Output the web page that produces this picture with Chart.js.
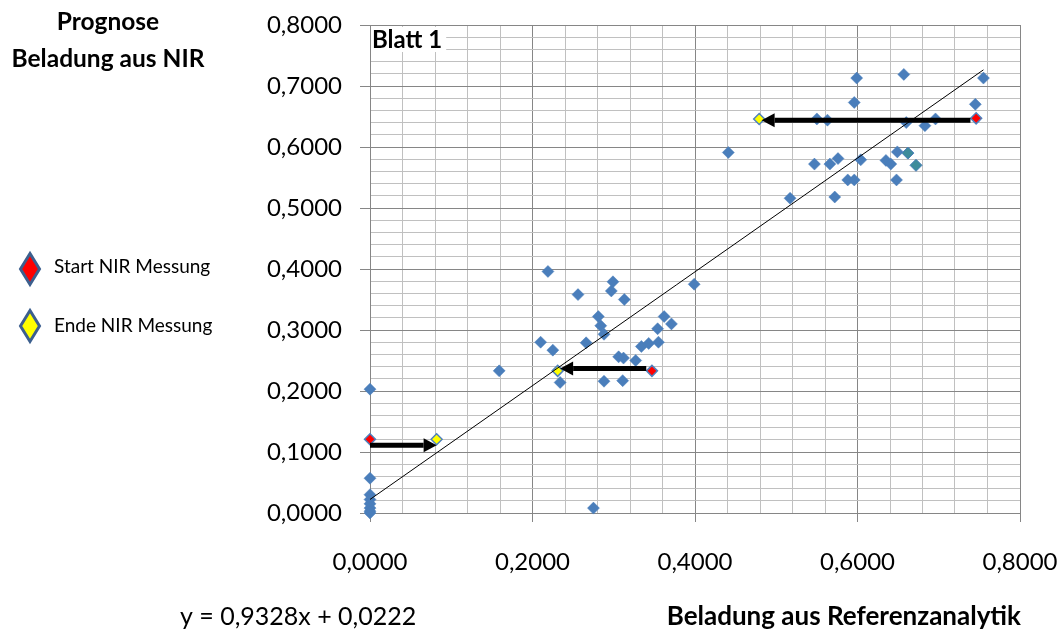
<!DOCTYPE html>
<html><head><meta charset="utf-8">
<script src="https://cdn.jsdelivr.net/npm/chart.js@4/dist/chart.umd.min.js"></script>
<style>html,body{margin:0;padding:0;background:#fff}#wrap{width:1064px;height:635px;position:relative}</style>
</head><body><div id="wrap"><canvas id="c" width="1064" height="635"></canvas></div>
<script>
// ---- data ----
const blueX = [0.441,0.599,0.657,0.755,0.596,0.745,0.550,0.563,0.660,0.683,0.696,0.547,0.566,0.576,0.604,0.635,0.641,0.649,0.588,0.596,0.648,0.517,0.572,
  0.159,0.219,0.210,0.225,0.234,0.256,0.266,0.281,0.284,0.288,0.288,0.299,0.297,0.313,0.306,0.312,0.311,0.327,0.334,0.343,0.354,0.355,0.362,0.371,0.399,0.275,
  0,0,0,0,0,0,0,0];
const blueY = [0.591,0.713,0.719,0.713,0.673,0.670,0.646,0.644,0.640,0.635,0.646,0.572,0.572,0.581,0.579,0.578,0.572,0.592,0.546,0.546,0.546,0.516,0.518,
  0.233,0.396,0.280,0.267,0.214,0.358,0.279,0.322,0.307,0.293,0.216,0.379,0.364,0.350,0.256,0.254,0.217,0.250,0.273,0.278,0.302,0.280,0.322,0.310,0.375,0.008,
  0.203,0.057,0.030,0.022,0.015,0.008,0.003,0.000];
const tealX = [0.662, 0.672];
const tealY = [0.590, 0.570];
const startX = [0.000, 0.347, 0.746];
const startY = [0.121, 0.233, 0.647];
const endX = [0.082, 0.231, 0.479];
const endY = [0.121, 0.233, 0.646];
const trendX = [0.000, 0.755];
const trendY = [0.0222, 0.7265];
const arrowFromX = [0.000, 0.340, 0.739];
const arrowToX = [0.082, 0.234, 0.482];
const arrowY = [0.111, 0.237, 0.644];
const xTickLabels = [0, 0.2, 0.4, 0.6, 0.8];
const yTickLabels = [0, 0.1, 0.2, 0.3, 0.4, 0.5, 0.6, 0.7, 0.8];
const legendLabels = ['Start NIR Messung', 'Ende NIR Messung'];
const xTitle = 'Beladung aus Referenzanalytik';
const yTitle = ['Prognose', 'Beladung aus NIR'];
const equationText = 'y = 0,9328x + 0,0222';
const sheetLabel = 'Blatt 1';

const pts = (xs, ys) => xs.map((x, i) => ({x, y: ys[i]}));
const isLabelled = (v, list) => list.some(t => Math.abs(t - v) < 1e-6);
const fmt = v => v.toFixed(4).replace('.', ',');
const MAJOR = '#868686', MINOR = '#c0c0c0';
const FONT = 'Lato, "Open Sans", sans-serif';
const zeroPad = s => { s.paddingTop = 0; s.paddingBottom = 0; s.paddingLeft = 0; s.paddingRight = 0; };

const extras = {
  id: 'extras',
  afterDatasetsDraw(chart) {
    const {ctx, chartArea, scales: {x, y}} = chart;
    ctx.save();
    // text box of the sheet label (white fill over the grid)
    ctx.font = 'bold 24px ' + FONT;
    const w = ctx.measureText(sheetLabel).width;
    ctx.fillStyle = '#fff';
    ctx.fillRect(chartArea.left + 1, chartArea.top + 2, w + 5, 25);
    ctx.fillStyle = '#000'; ctx.textAlign = 'left'; ctx.textBaseline = 'alphabetic';
    ctx.fillText(sheetLabel, chartArea.left + 2, 48);
    // arrows
    ctx.fillStyle = '#000'; ctx.strokeStyle = '#000'; ctx.lineWidth = 5;
    for (let i = 0; i < arrowY.length; i++) {
      const x0 = x.getPixelForValue(arrowFromX[i]);
      const x1 = x.getPixelForValue(arrowToX[i]);
      const py = y.getPixelForValue(arrowY[i]);
      const dir = Math.sign(x1 - x0);
      const head = 13;
      ctx.beginPath(); ctx.moveTo(x0, py); ctx.lineTo(x1 - dir * head, py); ctx.stroke();
      ctx.beginPath();
      ctx.moveTo(x1, py);
      ctx.lineTo(x1 - dir * head, py - 7);
      ctx.lineTo(x1 - dir * head, py + 7);
      ctx.closePath(); ctx.fill();
    }
    ctx.restore();
  },
  afterDraw(chart) {
    const {ctx} = chart;
    ctx.save();
    ctx.fillStyle = '#000';
    ctx.textBaseline = 'alphabetic';
    ctx.font = 'bold 24.5px ' + FONT; ctx.textAlign = 'center';
    ctx.fillText(yTitle[0], 108, 30);
    ctx.fillText(yTitle[1], 108, 67);
    ctx.font = 'bold 26px ' + FONT; ctx.textAlign = 'right';
    ctx.fillText(xTitle, 1021, 625);
    ctx.font = '25px ' + FONT; ctx.textAlign = 'left';
    ctx.fillText(equationText, 180, 625);
    const fills = ['#ff0000', '#ffff00'];
    const cys = [269, 326];
    for (let i = 0; i < 2; i++) {
      const cx = 30, cy = cys[i];
      ctx.beginPath();
      ctx.moveTo(cx, cy - 15.5); ctx.lineTo(cx + 9.5, cy); ctx.lineTo(cx, cy + 15.5); ctx.lineTo(cx - 9.5, cy); ctx.closePath();
      ctx.fillStyle = fills[i]; ctx.fill();
      ctx.lineWidth = 3; ctx.strokeStyle = '#3C5F8E'; ctx.stroke();
      ctx.fillStyle = '#000'; ctx.font = '19px ' + FONT; ctx.textAlign = 'left';
      ctx.fillText(legendLabels[i], 54, cy + 4 + (i ? 2 : 0));
    }
    ctx.restore();
  }
};

new Chart(document.getElementById('c'), {
  type: 'scatter',
  data: {
    datasets: [
      {label: 'Trend', type: 'line', data: pts(trendX, trendY), borderColor: '#000', borderWidth: 1, pointRadius: 0, fill: false, order: 0, clip: false},
      {label: legendLabels[0], data: pts(startX, startY), pointStyle: 'rectRot', pointRadius: 5.5, backgroundColor: '#ff0000', borderColor: '#4F81BD', borderWidth: 1.5, order: 1, clip: false},
      {label: legendLabels[1], data: pts(endX, endY), pointStyle: 'rectRot', pointRadius: 5.5, backgroundColor: '#ffff00', borderColor: '#4F81BD', borderWidth: 1.5, order: 1, clip: false},
      {label: 'teal', data: pts(tealX, tealY), pointStyle: 'rectRot', pointRadius: 6, backgroundColor: '#3E8B9B', borderColor: '#4A7EBB', borderWidth: 1, order: 2, clip: false},
      {label: 'Daten', data: pts(blueX, blueY), pointStyle: 'rectRot', pointRadius: 6, backgroundColor: '#4A7EBB', borderColor: '#4A7EBB', borderWidth: 0.5, order: 3, clip: false}
    ]
  },
  options: {
    responsive: false, animation: false, devicePixelRatio: 1,
    layout: {padding: {top: 25, right: 44, left: 0, bottom: 0}},
    plugins: {legend: {display: false}, tooltip: {enabled: false}},
    scales: {
      x: {
        type: 'linear', min: 0, max: 0.8,
        afterFit: s => { s.height = 122; zeroPad(s); },
        ticks: {stepSize: 0.04, autoSkip: false, maxRotation: 0, minRotation: 0, padding: 26,
          color: '#000', font: {family: FONT, size: 24},
          callback: v => isLabelled(v, xTickLabels) ? fmt(v) : ''},
        grid: {lineWidth: 1, tickLength: 9,
          color: c => isLabelled(c.tick.value, xTickLabels) ? MAJOR : MINOR,
          tickColor: c => isLabelled(c.tick.value, xTickLabels) ? MAJOR : 'rgba(0,0,0,0)'},
        border: {display: true, color: MAJOR, width: 1}
      },
      y: {
        type: 'linear', min: 0, max: 0.8,
        afterFit: s => { s.width = 370; zeroPad(s); },
        ticks: {stepSize: 0.02, autoSkip: false, padding: 18,
          color: '#000', font: {family: FONT, size: 24},
          callback: v => isLabelled(v, yTickLabels) ? fmt(v) : ''},
        grid: {lineWidth: 1, tickLength: 10,
          color: c => isLabelled(c.tick.value, yTickLabels) ? MAJOR : MINOR,
          tickColor: c => isLabelled(c.tick.value, yTickLabels) ? MAJOR : 'rgba(0,0,0,0)'},
        border: {display: true, color: MAJOR, width: 1}
      }
    }
  },
  plugins: [extras]
});
</script></body></html>
